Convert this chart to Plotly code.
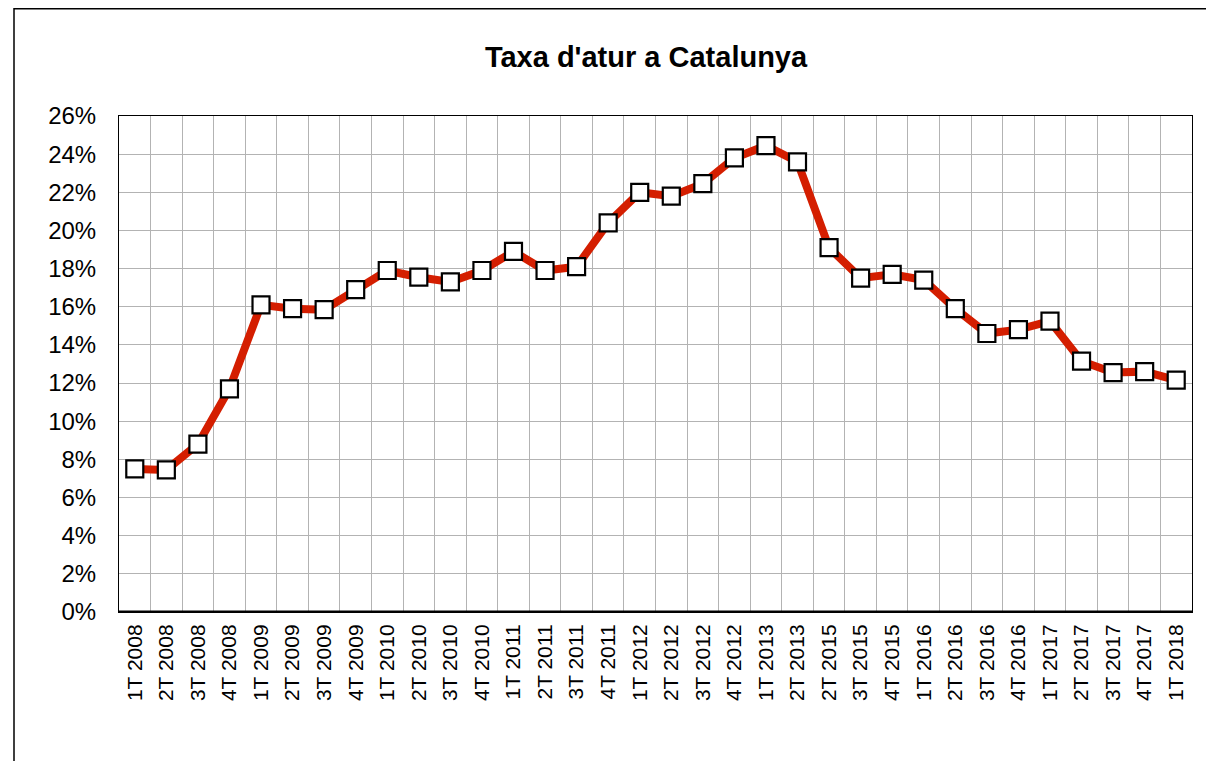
import plotly.graph_objects as go

categories = ["1T 2008", "2T 2008", "3T 2008", "4T 2008",
              "1T 2009", "2T 2009", "3T 2009", "4T 2009",
              "1T 2010", "2T 2010", "3T 2010", "4T 2010",
              "1T 2011", "2T 2011", "3T 2011", "4T 2011",
              "1T 2012", "2T 2012", "3T 2012", "4T 2012",
              "1T 2013", "2T 2013", "2T 2015", "3T 2015",
              "4T 2015", "1T 2016", "2T 2016", "3T 2016",
              "4T 2016", "1T 2017", "2T 2017", "3T 2017",
              "4T 2017", "1T 2018"]
atur = [7.5, 7.45, 8.8, 11.7,
        16.1, 15.9, 15.85, 16.9,
        17.9, 17.55, 17.3, 17.9,
        18.9, 17.9, 18.1, 20.4,
        22.0, 21.8, 22.45, 23.8,
        24.45, 23.6, 19.1, 17.5,
        17.7, 17.4, 15.9, 14.6,
        14.8, 15.25, 13.15, 12.55,
        12.6, 12.15]
y_ticks = list(range(0, 27, 2))

# page body has an 8px default margin; figure sized to fit the 1214x761 window
W, H = 1206, 753
L, T, R, B = 111, 108, 22, 149
pw, ph = W - L - R, H - T - B

fig = go.Figure()
fig.add_trace(go.Scatter(
    x=categories, y=[v / 100 for v in atur], mode="lines+markers",
    line=dict(color="#D41E00", width=8),
    marker=dict(symbol="square", size=17, color="white",
                line=dict(color="black", width=2.2)),
    showlegend=False, cliponaxis=False))

fig.update_layout(
    width=W, height=H,
    margin=dict(l=L, r=R, t=T, b=B),
    paper_bgcolor="white", plot_bgcolor="white",
    font=dict(family="Arial, Liberation Sans, sans-serif", size=20, color="black"),
    title=dict(text="<b>Taxa d'atur a Catalunya</b>", x=(638 - L) / pw, xref="paper",
               xanchor="center", y=1 - 49 / H, yanchor="middle",
               font=dict(size=29, color="black")),
    xaxis=dict(type="category", tickson="boundaries", showgrid=True,
               range=[-0.5, len(categories) - 0.5],
               gridcolor="#b3b3b3", gridwidth=1, tickangle=-90,
               ticks="", showline=True, linecolor="black", linewidth=1, mirror=True,
               tickfont=dict(size=21), ticklabelstandoff=3),
    yaxis=dict(range=[0, 0.26], tickvals=[t / 100 for t in y_ticks], tickformat=".0%",
               showgrid=True, gridcolor="#b3b3b3", gridwidth=1,
               showline=True, linecolor="black", linewidth=1, mirror=True,
               ticks="", ticklabelstandoff=17, zeroline=False,
               tickfont=dict(size=24)),
)
# thick baseline at 0%
fig.add_shape(type="line", xref="paper", yref="y", x0=0, x1=1, y0=0, y1=0,
              line=dict(color="black", width=3), layer="above")
# outer chart border
fig.add_shape(type="rect", xref="paper", yref="paper",
              x0=(6 - L) / pw, x1=1.2, y0=-0.5, y1=1 + (T - 0.75) / ph,
              line=dict(color="black", width=1.5), fillcolor="rgba(0,0,0,0)")

fig.write_html("out.html")
